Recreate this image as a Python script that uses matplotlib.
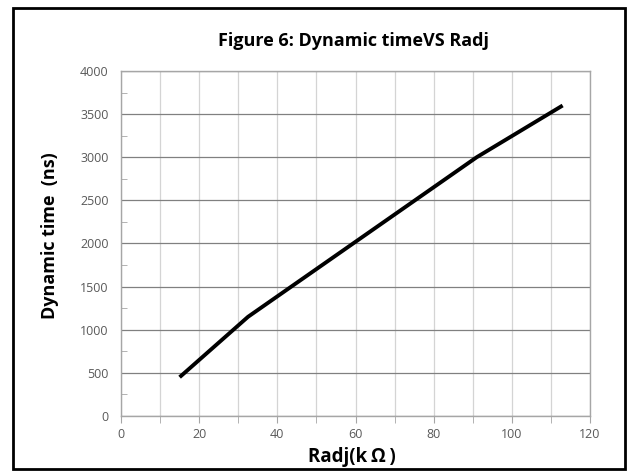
import matplotlib
matplotlib.use("Agg")
import matplotlib.pyplot as plt
from matplotlib.patches import Rectangle
from matplotlib.ticker import MultipleLocator

# values
radj = [15, 32.5, 91, 113]
dyn_time = [450, 1150, 3000, 3600]

plt.rcParams['font.family'] = ['Open Sans', 'DejaVu Sans']

fig = plt.figure(figsize=(6.28, 4.72), dpi=100)
W, H = 628, 472
ax = fig.add_axes([121 / W, 1 - 416 / H, (590 - 121) / W, (416 - 71) / H])

ax.plot(radj, dyn_time, color='black', lw=2.8, solid_capstyle='butt')

ax.set_xlim(0, 120)
ax.set_ylim(0, 4000)
ax.xaxis.set_major_locator(MultipleLocator(20))
ax.xaxis.set_minor_locator(MultipleLocator(10))
ax.yaxis.set_major_locator(MultipleLocator(500))
ax.yaxis.set_minor_locator(MultipleLocator(250))

ax.grid(axis='x', which='both', color='#d4d4d4', lw=0.9)
ax.grid(axis='y', which='major', color='#808080', lw=0.9)
ax.set_axisbelow(True)

for s in ax.spines.values():
    s.set_color('#a6a6a6')
    s.set_linewidth(1.0)

ax.tick_params(axis='both', which='both', colors='#a6a6a6', labelcolor='#595959',
               labelsize=9)
ax.tick_params(axis='x', which='both', length=5, direction='out', pad=4)
ax.tick_params(axis='y', which='major', length=0, pad=9)
ax.tick_params(axis='y', which='minor', length=4, direction='in')

fig.text(353 / W, 1 - 41 / H, 'Figure 6: Dynamic timeVS Radj', ha='center', va='center',
         fontsize=13, fontweight='bold')
fig.text(352 / W, 1 - 457 / H, 'Radj(k\u2009\u03a9\u2009)', ha='center', va='center',
         fontsize=13.5, fontweight='bold')
fig.text(50 / W, 1 - 236 / H, 'Dynamic time  (ns)', ha='center', va='center',
         rotation=90, fontsize=13, fontweight='bold')

fig.patches.append(Rectangle((13 / W, 1 - 469 / H), (625 - 13) / W, (469 - 8) / H,
                             transform=fig.transFigure, fill=False,
                             edgecolor='black', lw=2))

fig.savefig('out.png', dpi=100)
